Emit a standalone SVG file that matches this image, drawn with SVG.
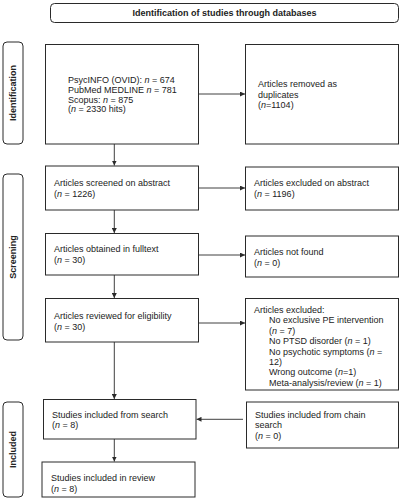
<svg xmlns="http://www.w3.org/2000/svg" width="401" height="500" viewBox="0 0 401 500">
<style>
.box{fill:#fff;stroke:#2a2a2a;stroke-width:1}
.lab{fill:#fff;stroke:#2a2a2a;stroke-width:1}
text{font-family:"Liberation Sans",Arial,sans-serif;font-size:9px;fill:#222}
.b{font-weight:bold}
.c{stroke:#2a2a2a;stroke-width:0.9;fill:none}
</style>
<defs>
<marker id="ah" viewBox="0 0 10 10" refX="10" refY="5" markerWidth="5" markerHeight="5" orient="auto" markerUnits="userSpaceOnUse">
<path d="M0,0 L10,5 L0,10 z" fill="#2a2a2a"/>
</marker>
</defs>
<rect width="401" height="500" fill="#fff"/>

<g id="header">
<rect class="lab" x="50.5" y="3.5" width="348" height="19" rx="4"/>
<text class="b" x="224.5" y="16" text-anchor="middle">Identification of studies through databases</text>
</g>

<g id="label-identification">
<rect class="lab" x="3" y="42" width="20" height="102" rx="4"/>
<text class="b" transform="translate(16.3,93) rotate(-90)" text-anchor="middle">Identification</text>
</g>
<g id="label-screening">
<rect class="lab" x="3" y="174" width="20" height="166" rx="4"/>
<text class="b" transform="translate(16.3,257) rotate(-90)" text-anchor="middle">Screening</text>
</g>
<g id="label-included">
<rect class="lab" x="3" y="402" width="20" height="95" rx="4"/>
<text class="b" transform="translate(16.3,449.5) rotate(-90)" text-anchor="middle">Included</text>
</g>

<g id="records">
<rect class="box" x="45.5" y="44.5" width="153" height="99.5"/>
<text x="68" y="83.3">PsycINFO (OVID): <tspan font-style="italic">n</tspan> = 674</text>
<text x="68" y="93">PubMed MEDLINE <tspan font-style="italic">n</tspan> = 781</text>
<text x="68" y="102.7">Scopus: <tspan font-style="italic">n</tspan> = 875</text>
<text x="68" y="112.4">(<tspan font-style="italic">n</tspan> = 2330 hits)</text>
</g>
<g id="duplicates">
<rect class="box" x="245.5" y="44.5" width="153" height="99.5"/>
<text x="258" y="87.3">Articles removed as</text>
<text x="258" y="97.5">duplicates</text>
<text x="258" y="107.7">(<tspan font-style="italic">n</tspan>=1104)</text>
</g>

<g id="screened">
<rect class="box" x="45.5" y="166" width="153" height="44"/>
<text x="54" y="186">Articles screened on abstract</text>
<text x="54" y="196.7">(<tspan font-style="italic">n</tspan> = 1226)</text>
</g>
<g id="excluded-abstract">
<rect class="box" x="245.5" y="167" width="153" height="43"/>
<text x="254" y="186">Articles excluded on abstract</text>
<text x="254" y="196.7">(<tspan font-style="italic">n</tspan> = 1196)</text>
</g>

<g id="fulltext">
<rect class="box" x="45.5" y="233.5" width="153" height="41.5"/>
<text x="54" y="252.3">Articles obtained in fulltext</text>
<text x="54" y="263.3">(<tspan font-style="italic">n</tspan> = 30)</text>
</g>
<g id="not-found">
<rect class="box" x="245.5" y="236" width="153" height="41"/>
<text x="254" y="255">Articles not found</text>
<text x="254" y="265.5">(<tspan font-style="italic">n</tspan> = 0)</text>
</g>

<g id="eligibility">
<rect class="box" x="45.5" y="298.5" width="153" height="43.5"/>
<text x="54" y="319">Articles reviewed for eligibility</text>
<text x="54" y="330">(<tspan font-style="italic">n</tspan> = 30)</text>
</g>
<g id="excluded">
<rect class="box" x="245.5" y="298.5" width="153" height="91.5"/>
<text x="254" y="312.7">Articles excluded:</text>
<text x="269" y="323.2">No exclusive PE intervention</text>
<text x="269" y="333.7">(<tspan font-style="italic">n</tspan> = 7)</text>
<text x="269" y="344.2">No PTSD disorder (<tspan font-style="italic">n</tspan> = 1)</text>
<text x="269" y="354.7">No psychotic symptoms (<tspan font-style="italic">n</tspan> =</text>
<text x="269" y="365.2">12)</text>
<text x="269" y="375.4">Wrong outcome (<tspan font-style="italic">n</tspan>=1)</text>
<text x="269" y="385.7">Meta-analysis/review (<tspan font-style="italic">n</tspan> = 1)</text>
</g>

<g id="from-search">
<rect class="box" x="43.5" y="399.5" width="152.5" height="39.5"/>
<text x="52" y="417.7">Studies included from search</text>
<text x="52" y="428.3">(<tspan font-style="italic">n</tspan> = 8)</text>
</g>
<g id="chain-search">
<rect class="box" x="246.5" y="402" width="152" height="46"/>
<text x="255" y="417.7">Studies included from chain</text>
<text x="255" y="428.3">search</text>
<text x="255" y="439">(<tspan font-style="italic">n</tspan> = 0)</text>
</g>

<g id="review">
<rect class="box" x="42" y="462" width="153" height="35"/>
<text x="51" y="481">Studies included in review</text>
<text x="51" y="491.7">(<tspan font-style="italic">n</tspan> = 8)</text>
</g>

<g id="connectors">
<line class="c" x1="198.5" y1="94" x2="245" y2="94" marker-end="url(#ah)"/>
<line class="c" x1="114.3" y1="144" x2="114.3" y2="165.5" marker-end="url(#ah)"/>
<line class="c" x1="198.5" y1="188" x2="245" y2="188" marker-end="url(#ah)"/>
<line class="c" x1="114.3" y1="210" x2="114.3" y2="233" marker-end="url(#ah)"/>
<line class="c" x1="198.5" y1="255" x2="245" y2="255" marker-end="url(#ah)"/>
<line class="c" x1="114.3" y1="275" x2="114.3" y2="298" marker-end="url(#ah)"/>
<line class="c" x1="198.5" y1="323" x2="245" y2="323" marker-end="url(#ah)"/>
<line class="c" x1="114.3" y1="342" x2="114.3" y2="399" marker-end="url(#ah)"/>
<line class="c" x1="243" y1="419.3" x2="196.5" y2="419.3" marker-end="url(#ah)"/>
<line class="c" x1="114.3" y1="439" x2="114.3" y2="461.5" marker-end="url(#ah)"/>
</g>
</svg>
